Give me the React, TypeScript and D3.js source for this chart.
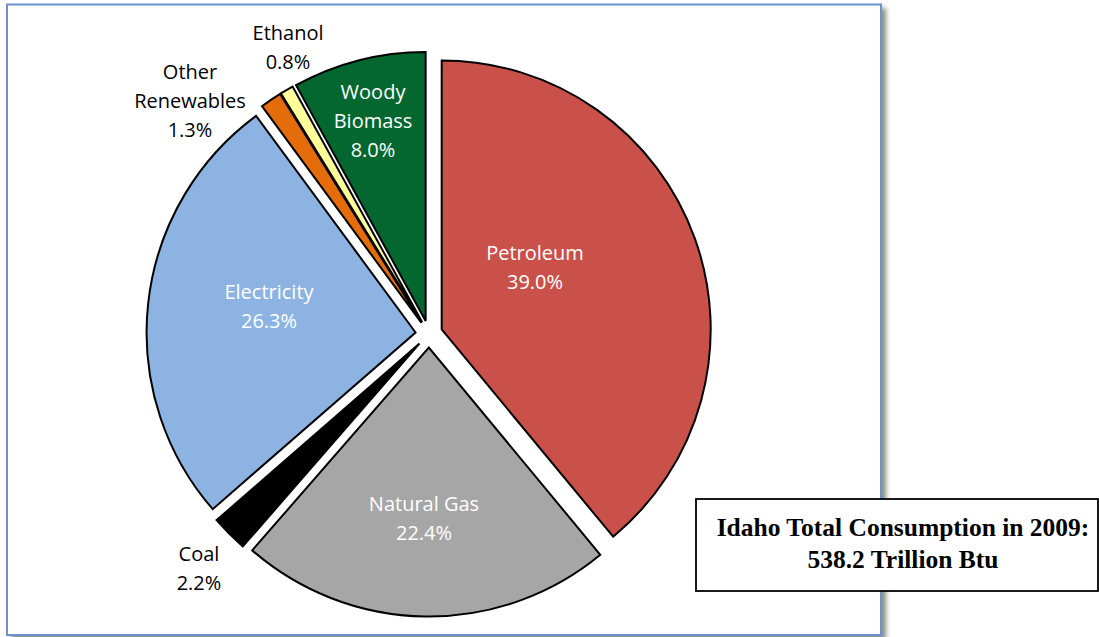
import React from "react";
import * as d3 from "d3";

const categories = ["Petroleum", "Natural Gas", "Coal", "Electricity", "Other Renewables", "Ethanol", "Woody Biomass"];
const shares = [39.0, 22.4, 2.2, 26.3, 1.3, 0.8, 8.0];
const labelLines = [
  ["Petroleum", "39.0%"],
  ["Natural Gas", "22.4%"],
  ["Coal", "2.2%"],
  ["Electricity", "26.3%"],
  ["Other", "Renewables", "1.3%"],
  ["Ethanol", "0.8%"],
  ["Woody", "Biomass", "8.0%"],
];
const colors = ["#c9514a", "#a6a6a6", "#000000", "#8db3e2", "#e46c0a", "#ffff99", "#03672f"];
const labelColors = ["#ffffff", "#ffffff", "#000000", "#ffffff", "#000000", "#000000", "#ffffff"];
// label first-baseline offsets from the pie centre (layout)
const labelOffsets: [number, number][] = [
  [106, -74],
  [-5, 177],
  [-230, 227],
  [-160, -35],
  [-239, -255],
  [-141, -294],
  [-56, -235],
];
const boxLines = ["Idaho Total Consumption in 2009:", "538.2 Trillion Btu"];

const W = 1099;
const H = 637;
const CX = 429;
const CY = 334;
const R = 269;
const EXPLODE = 13.5;
const LINE = 29;

export default function App() {
  const pie = d3.pie<number>().sort(null).value((d) => d)(shares);
  const arc = d3.arc<d3.PieArcDatum<number>>().innerRadius(0).outerRadius(R);

  return (
    <svg width={W} height={H} style={{ position: "absolute", left: 0, top: 0, background: "#fff" }}>
      <defs>
        <filter id="sh" x="-10%" y="-10%" width="120%" height="120%">
          <feGaussianBlur stdDeviation="2.5" />
        </filter>
      </defs>
      {/* frame shadow */}
      <rect x={11} y={8} width={875} height={632} fill="#8a8a8a" filter="url(#sh)" />
      <rect x={7} y={4.5} width={874} height={630.5} fill="#ffffff" stroke="#6a93cd" strokeWidth={2} />

      <g transform={`translate(${CX},${CY})`}>
        {pie.map((p, i) => {
          const mid = (p.startAngle + p.endAngle) / 2;
          const dx = Math.sin(mid) * EXPLODE;
          const dy = -Math.cos(mid) * EXPLODE;
          return (
            <path
              key={categories[i]}
              d={arc(p) || ""}
              transform={`translate(${dx},${dy})`}
              fill={colors[i]}
              stroke="#000"
              strokeWidth={2}
              strokeLinejoin="miter"
            />
          );
        })}
        {labelLines.map((lines, i) => (
          <text
            key={"l" + i}
            x={labelOffsets[i][0]}
            y={labelOffsets[i][1]}
            fill={labelColors[i]}
            fontFamily="'Open Sans', sans-serif"
            fontSize={20}
            textAnchor="middle"
          >
            {lines.map((t, j) => (
              <tspan key={j} x={labelOffsets[i][0]} y={labelOffsets[i][1] + j * LINE}>
                {t}
              </tspan>
            ))}
          </text>
        ))}
      </g>

      <rect x={696} y={499} width={402} height={92} fill="#fff" stroke="#000" strokeWidth={1.8} />
      {boxLines.map((t, j) => (
        <text
          key={"b" + j}
          x={903}
          y={536 + j * 32}
          textAnchor="middle"
          fontFamily="'Liberation Serif', serif"
          fontWeight="bold"
          fontSize={25.5}
        >
          {t}
        </text>
      ))}
    </svg>
  );
}
